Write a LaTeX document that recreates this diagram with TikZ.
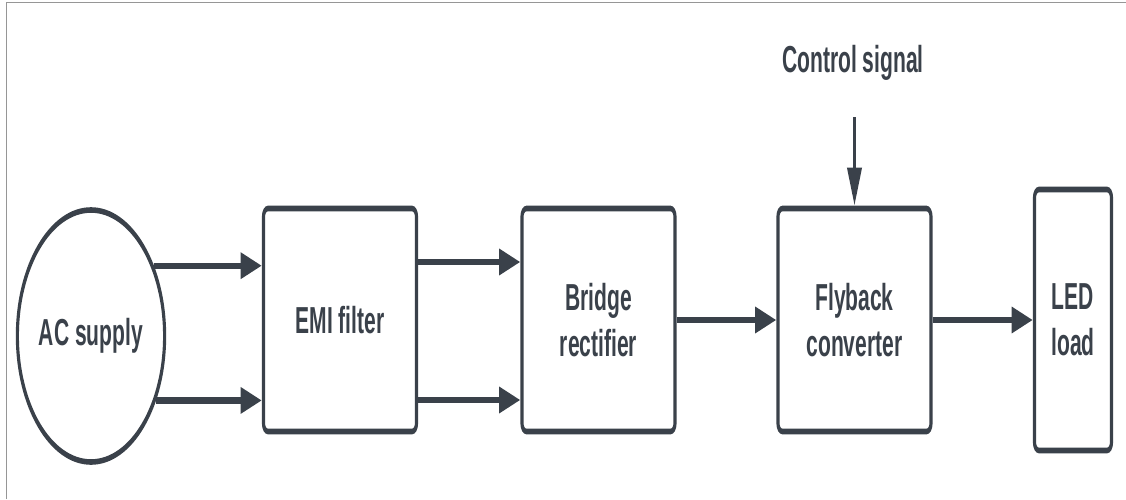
\documentclass[tikz,border=0pt]{standalone}
\usepackage{fontspec}
\setmainfont{Liberation Sans}
\usetikzlibrary{shapes.geometric,arrows.meta}
\definecolor{ink}{RGB}{58,65,74}
\definecolor{framegray}{RGB}{150,150,150}
\tikzset{
  label text/.style={text=ink, font=\bfseries\fontsize{18.8}{22.8}\selectfont, align=center},
  block/.style={label text, draw=ink, line width=2.8pt, rounded corners=4pt,
    minimum width=136.6pt, minimum height=111.5pt, inner sep=0pt},
  source/.style={label text, ellipse, draw=ink, line width=2.8pt,
    minimum width=114.8pt, minimum height=126pt, inner sep=0pt},
  flow/.style={draw=ink, line width=3.2pt, -{Triangle[length=19pt,width=12.5pt]}},
}
\begin{document}
\begin{tikzpicture}[x=0.5pt,y=-0.5pt]
\useasboundingbox (0,0) rectangle (1126,499);
% page frame
\draw[framegray, line width=0.75pt] (6.5,499) -- (6.5,2.7) -- (1126,2.7);
% the block chain, drawn on a horizontally condensed canvas
\begin{scope}[transform canvas={xscale=0.56}, x=0.892857pt, y=-0.5pt]
  \node[source] (ac) at (91,336) {AC supply};
  \node[block] (emi) at (340,320) {EMI filter};
  \node[block] (bridge) at (598.5,320) {Bridge\\rectifier};
  \node[block] (fly) at (854.5,320) {Flyback\\converter};
  \node[block, minimum width=68.75pt, minimum height=130.5pt] (led) at (1073,320) {LED\\load};
  \node[label text, anchor=base] (ctrl) at (853,72) {Control signal};
  \coordinate (ctrlin) at (854.5,117);

  \draw[flow] (ac.32.5) -- (ac.32.5 -| emi.west);
  \draw[flow] (ac.-29.5) -- (ac.-29.5 -| emi.west);
  \draw[flow] ([yshift=29pt]emi.east) -- ([yshift=29pt]emi.east -| bridge.west);
  \draw[flow] ([yshift=-40pt]emi.east) -- ([yshift=-40pt]emi.east -| bridge.west);
  \draw[flow] (bridge.east) -- (fly.west);
  \draw[flow] (fly.east) -- (led.west);
  \draw[flow] (ctrlin) -- (fly.north);
\end{scope}
\end{tikzpicture}
\end{document}
